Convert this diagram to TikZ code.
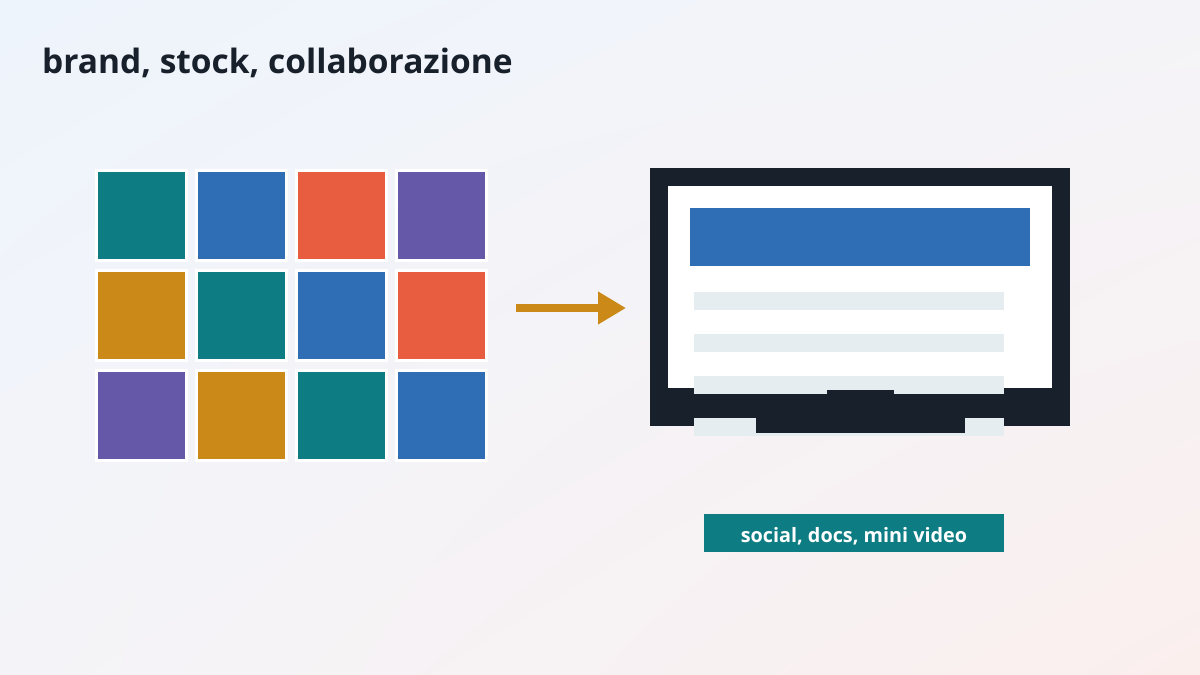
\documentclass[tikz,border=0pt]{standalone}
\usepackage{fontspec}
\setmainfont{Open Sans}
\usetikzlibrary{arrows.meta,shadings}
\definecolor{bgA}{HTML}{EEF4FC}
\definecolor{bgB}{HTML}{F4F4F8}
\definecolor{bgC}{HTML}{FBEFEE}
\definecolor{ink}{HTML}{18202B}
\definecolor{cteal}{HTML}{0E7C83}
\definecolor{cblue}{HTML}{2F6DB5}
\definecolor{cred}{HTML}{E85C3F}
\definecolor{cpurple}{HTML}{6558A8}
\definecolor{cgold}{HTML}{CB8A17}
\definecolor{cline}{HTML}{E6EDF1}
\tikzset{
  tile/.style={draw=white, line width=3pt, minimum size=90pt, inner sep=0pt, fill=#1},
}
\begin{document}
\begin{tikzpicture}[x=1pt,y=-1pt]
\useasboundingbox (0,0) rectangle (1200,675);
\shade[upper left=bgA, upper right=bgB, lower left=bgB, lower right=bgC] (0,0) rectangle (1200,675);
% title
\node[anchor=base west, inner sep=0pt, text=ink, font=\fontsize{33.5}{38}\selectfont\bfseries] (title) at (42,73) {brand, stock, collaborazione};
% tiles
\node[tile=cteal] (t11) at (141.5,215.5) {};
\node[tile=cblue] (t12) at (241.5,215.5) {};
\node[tile=cred] (t13) at (341.5,215.5) {};
\node[tile=cpurple] (t14) at (441.5,215.5) {};
\node[tile=cgold] (t21) at (141.5,315.5) {};
\node[tile=cteal] (t22) at (241.5,315.5) {};
\node[tile=cblue] (t23) at (341.5,315.5) {};
\node[tile=cred] (t24) at (441.5,315.5) {};
\node[tile=cpurple] (t31) at (141.5,415.5) {};
\node[tile=cgold] (t32) at (241.5,415.5) {};
\node[tile=cteal] (t33) at (341.5,415.5) {};
\node[tile=cblue] (t34) at (441.5,415.5) {};
% arrow
\coordinate (a1) at (516,308);
\coordinate (a2) at (626,308);
\draw[cgold, line width=8pt, -{Triangle[length=28pt 0 0, width=31pt 0 0]}] (a1) -- (a2);
% monitor
\fill[ink] (650,168) rectangle (1070,426);
\fill[white] (668,186) rectangle (1052,388);
\fill[cblue] (690,208) rectangle (1030,266);
\fill[cline] (694,292) rectangle (1004,310);
\fill[cline] (694,334) rectangle (1004,352);
\fill[cline] (694,376) rectangle (1004,394);
\fill[cline] (694,418) rectangle (1004,436);
\fill[ink] (827,390) rectangle (894,400);
\fill[ink] (756,400) rectangle (965,433);
% label
\node[fill=cteal, minimum width=300pt, minimum height=38pt, inner sep=0pt] (lbl) at (854,533) {};
\node[anchor=base, inner sep=0pt, text=white, font=\fontsize{19.8}{24}\selectfont\bfseries] (lbltext) at (854,542) {social, docs, mini video};
\end{tikzpicture}
\end{document}
